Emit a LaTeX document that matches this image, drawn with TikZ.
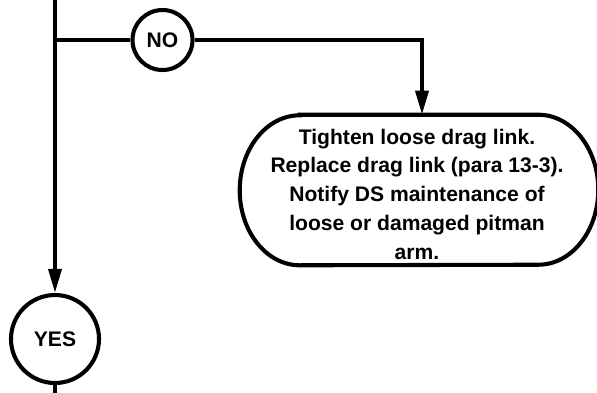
\documentclass[tikz,border=0pt]{standalone}
\usepackage{fontspec}
\setmainfont{Liberation Sans}
\usepackage{xcolor}
\usepackage{tikz}
\usetikzlibrary{positioning,arrows.meta,calc}

\begin{document}
\begin{tikzpicture}[
  answer/.style={draw, circle, line width=2.9pt, inner sep=0pt, font=\fontsize{15}{18}\selectfont\bfseries},
  action/.style={inner sep=0pt, minimum width=8.95cm, minimum height=3.75cm},
  note/.style={font=\fontsize{15}{20.6}\selectfont\bfseries, align=center, inner sep=0pt},
  link/.style={line width=2.9pt},
  arrow/.style={-{Triangle[length=0.6cm, width=0.32cm]}, line width=2.9pt},
  >=Stealth
]
\useasboundingbox (0,0) rectangle (14.925,-9.8);

\coordinate (top) at (1.375,0);
\coordinate (split) at (1.375,-1.0);
\coordinate (turn) at (10.55,-1.0);
\coordinate (bottom) at (1.375,-9.9);
\node[answer, minimum size=1.5cm] (no) at (4.0625,-1.0) {NO};
\node[answer, minimum size=2.2cm] (yes) at (1.375,-8.475) {YES};
\node[action] (fix) at (10.475,-4.75) {};
\node[note] (fixtext) at (10.425,-4.86) {Tighten loose drag link.\\Replace drag link (para 13-3).\\Notify DS maintenance of\\loose or damaged pitman\\arm.};

\draw[link] ([xshift=1.5cm]fix.north west) -- ([xshift=-1.5cm]fix.north east)
  arc[start angle=90, end angle=-90, x radius=1.5cm, y radius=1.875cm]
  -- ([xshift=1.5cm]fix.south west)
  arc[start angle=270, end angle=90, x radius=1.5cm, y radius=1.875cm] -- cycle;

\draw[arrow] (top) -- (yes);
\draw[link] (split) -- (no);
\draw[arrow] (no) -- (turn) -- (turn |- fix.north);
\draw[link] (yes) -- (bottom);

\end{tikzpicture}
\end{document}
